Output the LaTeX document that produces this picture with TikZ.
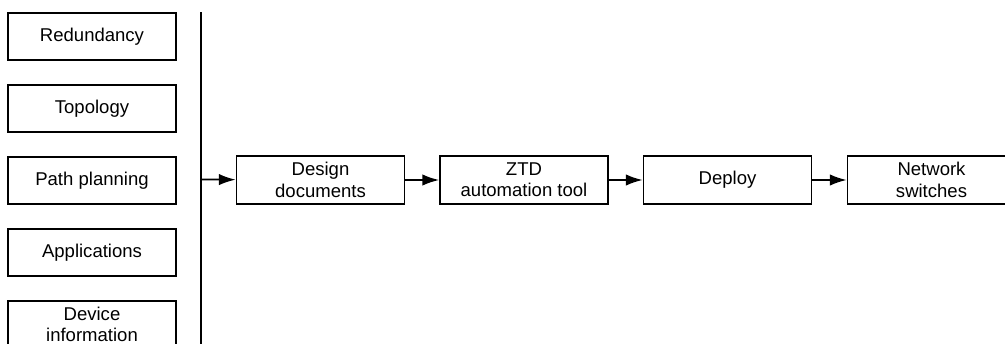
\documentclass[tikz,border=0pt]{standalone}
\usepackage{fontspec}
\setmainfont{Liberation Sans}
\usepackage{tikz}
\usetikzlibrary{arrows.meta}

\begin{document}
\begin{tikzpicture}[x=0.75pt,y=-0.75pt,
  inbox/.style={draw,line width=1.3pt,minimum width=126pt,minimum height=35.5pt,inner sep=0pt,align=center,font=\fontsize{13.9}{16}\selectfont},
  flow/.style={line width=1.3pt,-{Latex[length=12.5pt,width=8.5pt]}}]
                                     \useasboundingbox(0,0) rectangle (1005,343);
                                     \clip(0,0) rectangle (1005,343);
                                     % design inputs on the left
                                     \node[inbox](red)at(92,36.5){Redundancy};
                                     \node[inbox](topo)at(92,108.5){Topology};
                                     \node[inbox](path)at(92,180.5){Path planning};
                                     \node[inbox](app)at(92,252.5){Applications};
                                     \node[inbox](dev)at(92,324.5){Device\\information};
                                     % collecting bar
                                     \coordinate(bartop)at(201,12);
                                     \coordinate(barbot)at(201,360);
                                     \coordinate(barmid)at(201,179.5);
                                     \draw[line width=1.3pt](bartop)--(barbot);
                                     % the chain
                                     \node[inbox](doc)at(320.5,180){Design\\documents};
                                     \node[inbox](ztd)at(524,180){ZTD\\automation tool};
                                     \node[inbox](dep)at(727.5,180){Deploy};
                                     \node[inbox](sw)at(931.5,180){Network\\switches};
                                     \draw[flow](barmid)--(doc);
                                     \draw[flow](doc)--(ztd);
                                     \draw[flow](ztd)--(dep);
                                     \draw[flow](dep)--(sw);
                                 \end{tikzpicture}
\end{document}
